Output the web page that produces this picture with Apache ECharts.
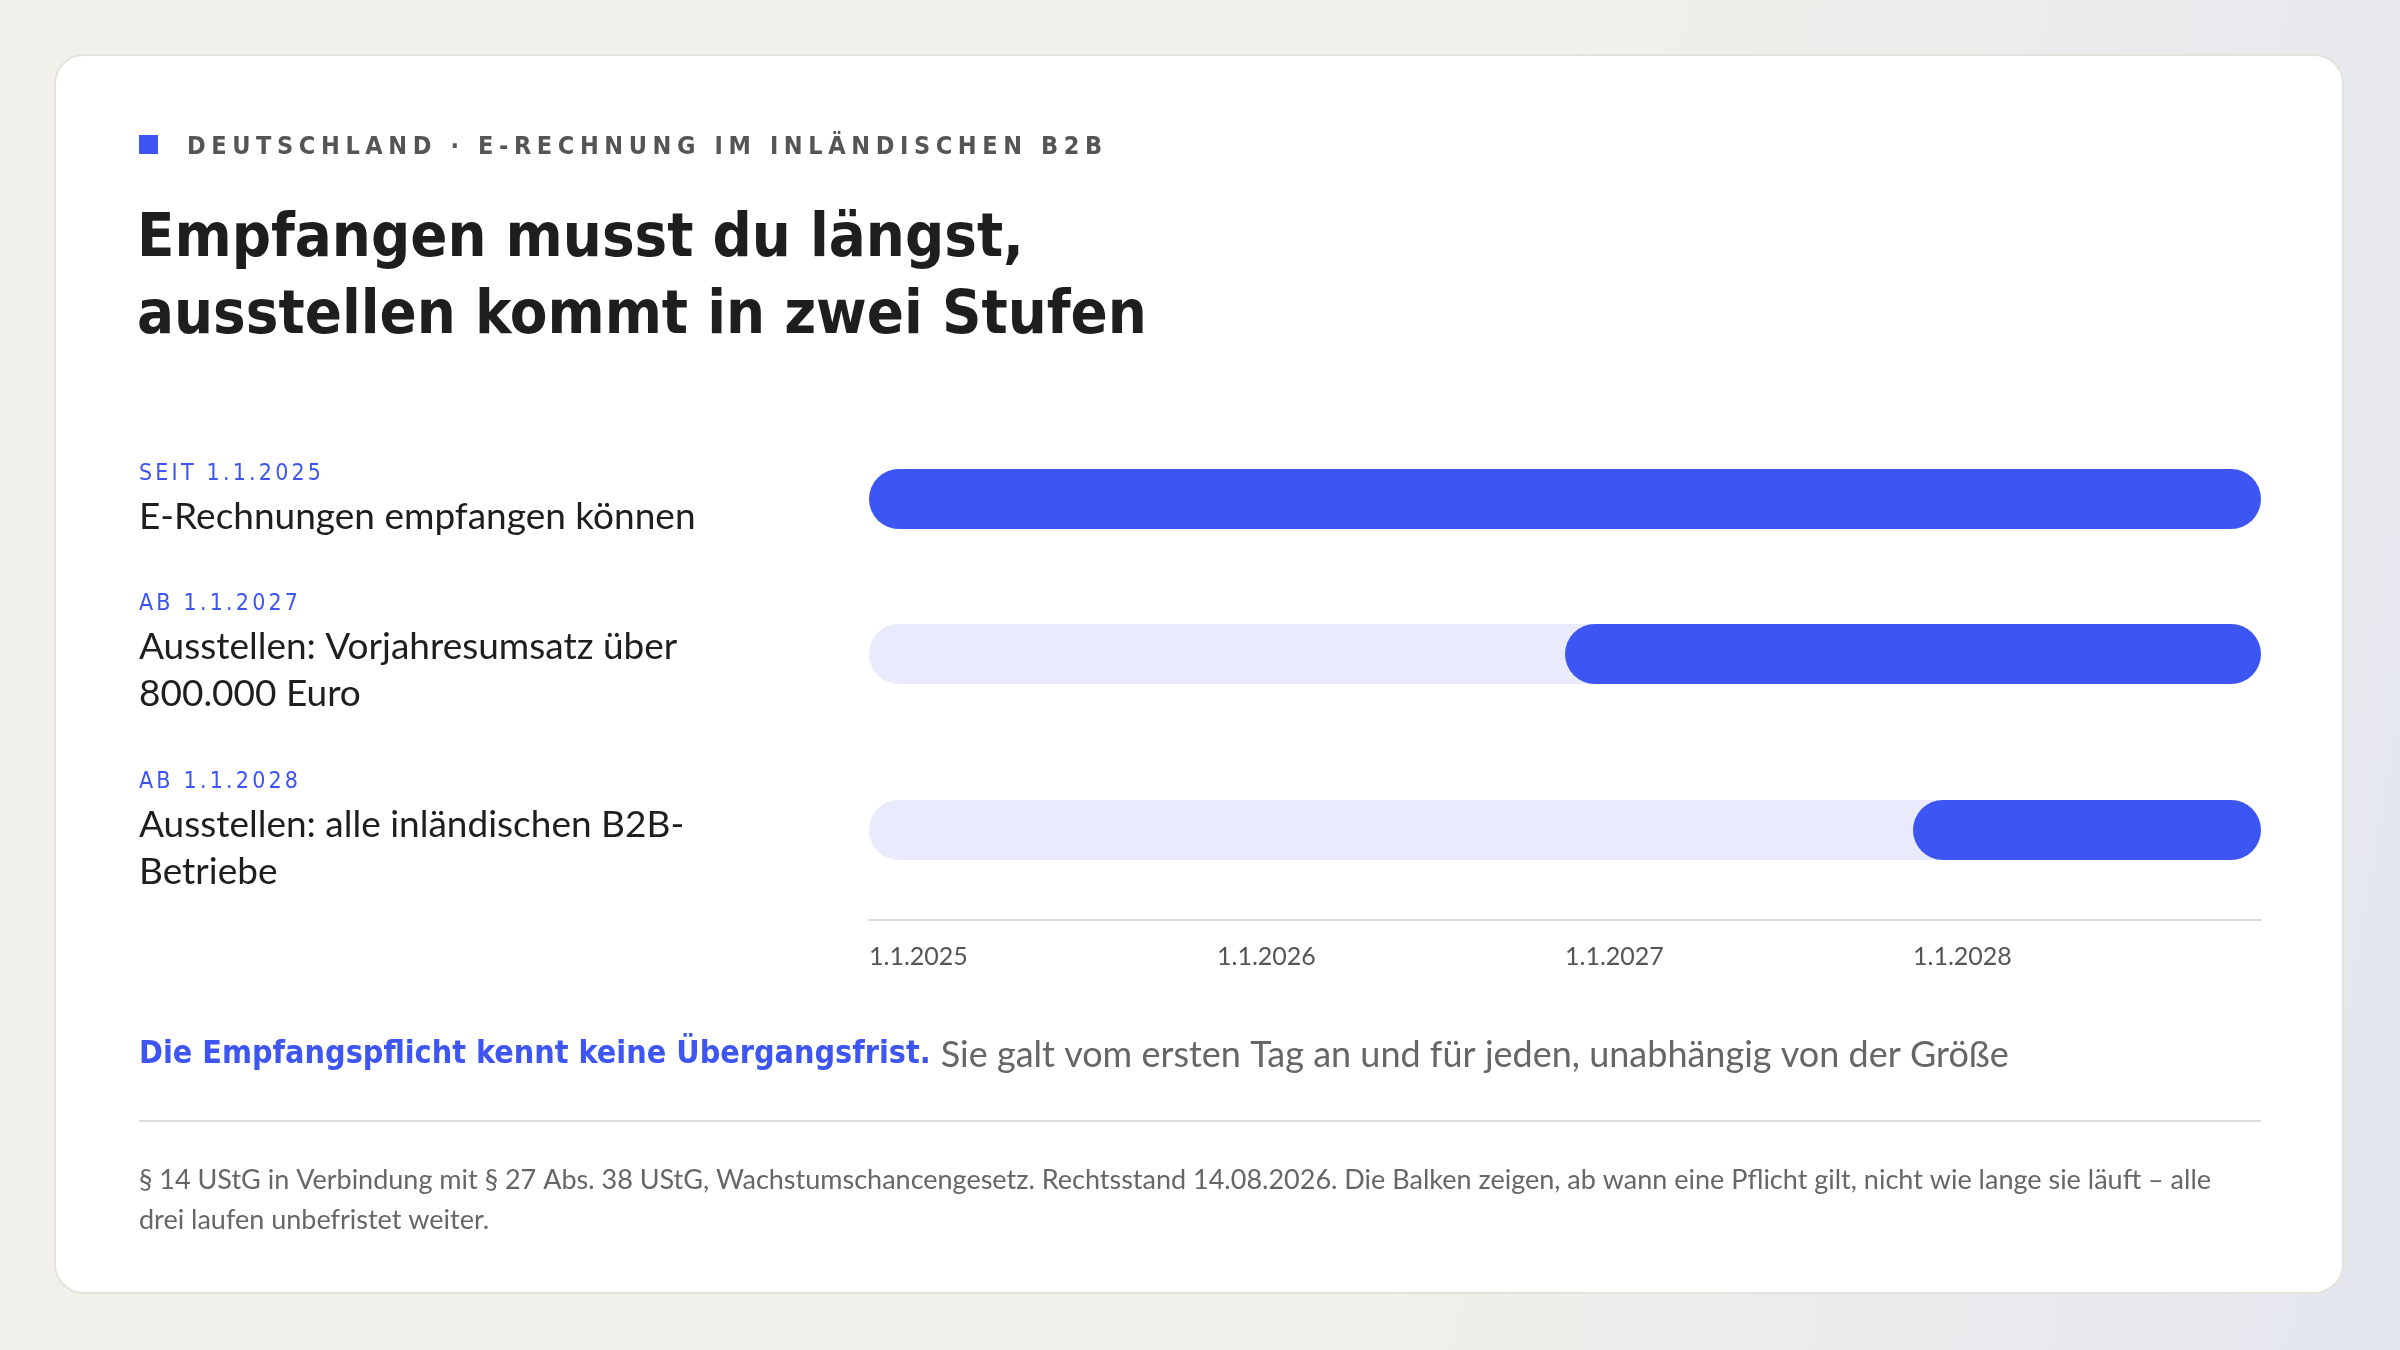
<!DOCTYPE html>
<html>
<head>
<meta charset="utf-8">
<script src="https://cdn.jsdelivr.net/npm/echarts@6/dist/echarts.min.js"></script>
<style>
  html, body { margin: 0; padding: 0; }
  body { width: 2400px; height: 1350px; background: linear-gradient(100deg, #F1F0EA 60%, #E3E6EE 100%); }
  #card { position: absolute; left: 54px; top: 54px; width: 2290px; height: 1240px; background: #fff;
          border: 2px solid #E3E3DC; border-radius: 30px; box-sizing: border-box; }
  #chart { position: absolute; left: 0; top: 0; width: 2400px; height: 1350px; }
  .sp { position: absolute; font-family: 'DejaVu Sans Condensed'; white-space: nowrap; z-index: 2; }
  #eyebrow { left: 187px; top: 131px; font-size: 25px; font-weight: bold; color: #555; letter-spacing: 5.6px; }
  .tag { left: 139px; font-size: 23px; color: #3D55F2; letter-spacing: 3.2px; }
</style>
</head>
<body>
<div id="card"></div>
<div id="chart"></div>
<div id="eyebrow" class="sp">DEUTSCHLAND · E-RECHNUNG IM INLÄNDISCHEN B2B</div>
<script>
// data
var tags = ['SEIT 1.1.2025', 'AB 1.1.2027', 'AB 1.1.2028'];
var labels = [
  ['E-Rechnungen empfangen können'],
  ['Ausstellen: Vorjahresumsatz über', '800.000 Euro'],
  ['Ausstellen: alle inländischen B2B-', 'Betriebe']
];
var startYears = [2025, 2027, 2028];
var baseYear = 2025;
var endYear = 2029;
var tickLabels = ['1.1.2025', '1.1.2026', '1.1.2027', '1.1.2028'];

// layout
var rowCenters = [499, 654, 830];
var rowTagY = [473, 603, 781];
var barH = 60;
var blue = '#3D55F2';
var track = '#E9EAFB';

var chart = echarts.init(document.getElementById('chart'));

var grids = [], xAxes = [], yAxes = [], series = [], graphics = [];

rowCenters.forEach(function (c, i) {
  var last = i === rowCenters.length - 1;
  grids.push({ left: 869, right: 139, top: c - barH / 2, height: barH });
  xAxes.push({
    gridIndex: i, type: 'value', min: 0, max: endYear - baseYear, interval: 1,
    offset: last ? 60 : 0,
    splitLine: { show: false },
    axisTick: { show: false },
    axisLine: { show: last, lineStyle: { color: '#DDDDD6', width: 2 } },
    axisLabel: {
      show: last, margin: 24, align: 'left', color: '#555', fontSize: 25, fontFamily: 'Lato',
      formatter: function (v) { return tickLabels[v] || ''; }
    }
  });
  yAxes.push({ gridIndex: i, type: 'category', data: [tags[i]], show: false });
  series.push({
    type: 'bar', xAxisIndex: i, yAxisIndex: i, barWidth: barH, barGap: '-100%', silent: true,
    data: [endYear - baseYear], itemStyle: { color: track, borderRadius: barH / 2 }
  });
  series.push({
    type: 'bar', xAxisIndex: i, yAxisIndex: i, barWidth: barH, stack: 'r' + i, silent: true,
    data: [startYears[i] - baseYear], itemStyle: { color: 'transparent' }
  });
  series.push({
    type: 'bar', xAxisIndex: i, yAxisIndex: i, barWidth: barH, stack: 'r' + i, silent: true,
    data: [endYear - startYears[i]], itemStyle: { color: blue, borderRadius: barH / 2 }
  });

  var el = document.createElement('div');
  el.className = 'sp tag';
  el.style.top = (rowTagY[i] - 14) + 'px';
  el.textContent = tags[i];
  document.body.appendChild(el);

  labels[i].forEach(function (line, j) {
    graphics.push({
      type: 'text', left: 139, top: rowTagY[i] + 26 + j * 47,
      style: { text: line, fill: '#1E1E1E', fontSize: 37, fontFamily: 'Lato' }
    });
  });
});

graphics.push(
  { type: 'rect', left: 139, top: 135, shape: { width: 19, height: 19 }, style: { fill: blue } },
  { type: 'text', left: 137, top: 202,
    style: { text: 'Empfangen musst du längst,\nausstellen kommt in zwei Stufen', fill: '#1E1E1E',
             fontSize: 61, lineHeight: 77, fontWeight: 'bold', fontFamily: 'DejaVu Sans Condensed' } },
  { type: 'text', left: 139, top: 1037,
    style: {
      text: '{a|Die Empfangspflicht kennt keine Übergangsfrist.}   {b|Sie galt vom ersten Tag an und für jeden, unabhängig von der Größe}',
      rich: {
        a: { fill: blue, fontSize: 32, fontWeight: 'bold', fontFamily: 'DejaVu Sans Condensed' },
        b: { fill: '#666', fontSize: 36, fontFamily: 'Lato' }
      }
    } },
  { type: 'line', shape: { x1: 139, y1: 1121, x2: 2261, y2: 1121 }, style: { stroke: '#DDDDD6', lineWidth: 2 } },
  { type: 'text', left: 139, top: 1160,
    style: {
      text: '§ 14 UStG in Verbindung mit § 27 Abs. 38 UStG, Wachstumschancengesetz. Rechtsstand 14.08.2026. Die Balken zeigen, ab wann eine Pflicht gilt, nicht wie lange sie läuft – alle\ndrei laufen unbefristet weiter.',
      fill: '#666', fontSize: 27, lineHeight: 40, fontFamily: 'Lato'
    } }
);

chart.setOption({
  animation: false,
  grid: grids,
  xAxis: xAxes,
  yAxis: yAxes,
  series: series,
  graphic: graphics
});
</script>
</body>
</html>
